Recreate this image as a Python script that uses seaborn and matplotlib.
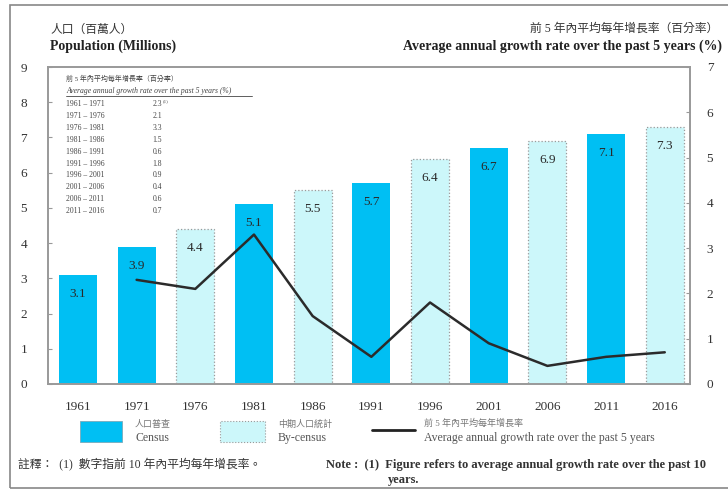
import matplotlib
matplotlib.use("Agg")
import matplotlib.pyplot as plt
import seaborn as sns
import pandas as pd
from matplotlib.patches import Rectangle
from matplotlib.lines import Line2D

years = ["1961", "1971", "1976", "1981", "1986", "1991", "1996", "2001", "2006", "2011", "2016"]
population = [3.1, 3.9, 4.4, 5.1, 5.5, 5.7, 6.4, 6.7, 6.9, 7.1, 7.3]
kind = ["Census", "Census", "By-census", "Census", "By-census", "Census",
        "By-census", "Census", "By-census", "Census", "By-census"]
growth = [None, 2.3, 2.1, 3.3, 1.5, 0.6, 1.8, 0.9, 0.4, 0.6, 0.7]
periods = ["1961 – 1971", "1971 – 1976", "1976 – 1981", "1981 – 1986", "1986 – 1991",
           "1991 – 1996", "1996 – 2001", "2001 – 2006", "2006 – 2011", "2011 – 2016"]
period_rates = ["2.3", "2.1", "3.3", "1.5", "0.6", "1.8", "0.9", "0.4", "0.6", "0.7"]

CENSUS = "#00BFF3"
BYCENSUS = "#CCF7FA"

sns.set_style("white")
plt.rcParams["font.family"] = ["Liberation Serif", "Noto Sans CJK TC"]

W, H = 728, 492
fig = plt.figure(figsize=(W / 100, H / 100), dpi=100)
ax = fig.add_axes([48 / W, 1 - 384 / H, (690 - 48) / W, (384 - 67) / H])

df = pd.DataFrame({"year": years, "pop": population, "kind": kind})
sns.barplot(data=df, x="year", y="pop", hue="kind", hue_order=["Census", "By-census"],
            palette={"Census": CENSUS, "By-census": BYCENSUS}, dodge=False,
            width=0.65, ax=ax, legend=False, linewidth=0, saturation=1)

for p in ax.containers[1]:
    p.set_edgecolor("#9a9a9a")
    p.set_linestyle(":")
    p.set_linewidth(0.9)

for i, v in enumerate(population):
    ax.annotate(f"{v}", (i, v), xytext=(0, -19), textcoords="offset pixels",
                ha="center", va="center", fontsize=9.5, color="#2a2a2a")

ax.set_ylim(0, 9)
ax.set_xlim(-0.51, 10.43)
ax.set_xlabel("")
ax.set_ylabel("")
ax.tick_params(axis="both", direction="in", length=3, color="#999999", labelsize=9.5,
               labelcolor="#333333")
ax.tick_params(axis="y", pad=15)
ax.tick_params(axis="x", pad=12, length=0)
for s in ax.spines.values():
    s.set_color("#999999")
    s.set_linewidth(1.2)

ax2 = ax.twinx()
idx = [i for i, g in enumerate(growth) if g is not None]
vals = [g for g in growth if g is not None]
sns.lineplot(x=idx, y=vals, ax=ax2, color="#2b2b2b", linewidth=1.8)
ax2.set_ylim(0, 7)
ax2.set_xlim(-0.51, 10.43)
ax2.tick_params(axis="y", direction="in", length=3, color="#999999", labelsize=9.5,
                labelcolor="#333333", pad=12)
for s in ax2.spines.values():
    s.set_color("#999999")
    s.set_linewidth(1.2)

# axis titles
fig.text(50 / W, 1 - 30 / H, "人口（百萬人）", fontsize=8.5, color="#333333", va="center")
fig.text(50 / W, 1 - 46 / H, "Population (Millions)", fontsize=10, weight="bold",
         color="#222222", va="center")
fig.text(718 / W, 1 - 29 / H, "前 5 年內平均每年增長率（百分率）", fontsize=8.5,
         color="#333333", va="center", ha="right")
fig.text(722 / W, 1 - 46 / H, "Average annual growth rate over the past 5 years (%)",
         fontsize=10, weight="bold", color="#222222", va="center", ha="right")

# inset table
fig.text(66 / W, 1 - 78 / H, "前 5 年內平均每年增長率（百分率）", fontsize=5, color="#444444", va="center")
fig.text(66 / W, 1 - 91 / H, "Average annual growth rate over the past 5 years (%)",
         fontsize=5.5, style="italic", color="#444444", va="center")
fig.add_artist(Line2D([66 / W, 252 / W], [1 - 96 / H, 1 - 96 / H], color="#444444", lw=0.6))
for k, (per, r) in enumerate(zip(periods, period_rates)):
    y = 1 - (104 + k * 11.9) / H
    fig.text(66 / W, y, per, fontsize=5.5, color="#444444", va="center")
    fig.text(162 / W, y, r, fontsize=5.5, color="#444444", va="center", ha="right")
fig.text(163 / W, 1 - 101 / H, "(1)", fontsize=3.5, color="#444444", va="center")

# legend
fig.add_artist(Rectangle((80 / W, 1 - 442 / H), 42 / W, 21 / H, facecolor=CENSUS,
                         edgecolor="#7aaabb", lw=0.6))
fig.text(135 / W, 1 - 424 / H, "人口普查", fontsize=6.5, color="#777777", va="center")
fig.text(135 / W, 1 - 438 / H, "Census", fontsize=8.5, color="#555555", va="center")
fig.add_artist(Rectangle((220 / W, 1 - 442 / H), 45 / W, 21 / H, facecolor=BYCENSUS,
                         edgecolor="#9a9a9a", lw=0.8, ls=":"))
fig.text(278 / W, 1 - 424 / H, "中期人口統計", fontsize=6.5, color="#777777", va="center")
fig.text(278 / W, 1 - 438 / H, "By-census", fontsize=8.5, color="#555555", va="center")
fig.add_artist(Line2D([372 / W, 415 / W], [1 - 430 / H, 1 - 430 / H], color="#222222", lw=2))
fig.text(424 / W, 1 - 423 / H, "前 5 年內平均每年增長率", fontsize=6.5, color="#777777", va="center")
fig.text(424 / W, 1 - 438 / H, "Average annual growth rate over the past 5 years",
         fontsize=8.5, color="#555555", va="center")

# notes
fig.text(18 / W, 1 - 465 / H, "註釋：  (1)  數字指前 10 年內平均每年增長率。", fontsize=8.5,
         color="#333333", va="center")
fig.text(326 / W, 1 - 465 / H,
         "Note :  (1)  Figure refers to average annual growth rate over the past 10",
         fontsize=9, weight="bold", color="#333333", va="center")
fig.text(388 / W, 1 - 480 / H, "years.", fontsize=9, weight="bold", color="#333333", va="center")

# outer frame
fig.add_artist(Rectangle((10 / W, 1 - 488 / H), 730 / W, 483 / H, fill=False,
                         edgecolor="#888888", lw=1.2))

fig.savefig("out.png", dpi=100)
